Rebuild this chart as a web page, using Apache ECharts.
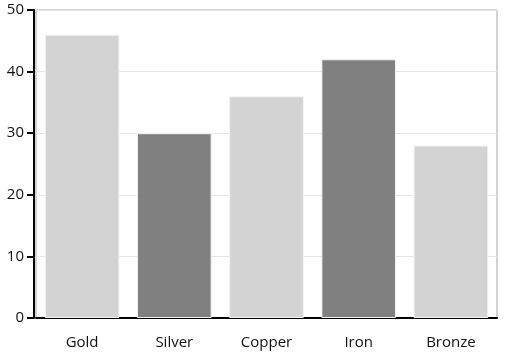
<!DOCTYPE html>
<html>
<head>
<meta charset="utf-8">
<script src="https://cdn.jsdelivr.net/npm/echarts@6/dist/echarts.min.js"></script>
<style>
    html, body { margin: 0; padding: 0; background: #fff; }
    #chart { width: 505px; height: 352px; }
</style>
</head>
<body>
<div id="chart"></div>
<script>
    // chart data
    var categories = ['Gold', 'Silver', 'Copper', 'Iron', 'Bronze'];
    var values = [46, 30, 36, 42, 28];
    var barColors = ['#d3d3d3', '#808080', '#d3d3d3', '#808080', '#d3d3d3'];

    var chart = echarts.init(document.getElementById('chart'));
    var textFont = '"Open Sans", "Noto Sans", sans-serif';

    var option = {
        animation: false,
        grid: {
            left: 36,
            right: 8,
            top: 10,
            bottom: 34,
            show: true,
            borderColor: '#a6a6a6',
            borderWidth: 1,
            backgroundColor: 'transparent'
        },
        xAxis: {
            type: 'category',
            data: categories,
            axisLine: { lineStyle: { color: '#000', width: 2 } },
            axisTick: { alignWithLabel: true, length: 9, lineStyle: { color: '#000', width: 2 } },
            axisLabel: { color: '#111', fontSize: 15, fontFamily: textFont, margin: 17 }
        },
        yAxis: {
            type: 'value',
            min: 0,
            max: 50,
            interval: 10,
            offset: 2,
            axisLine: { show: true, lineStyle: { color: '#000', width: 2 } },
            axisTick: { show: true, length: 7, lineStyle: { color: '#000', width: 2 } },
            axisLabel: { color: '#111', fontSize: 15, fontFamily: textFont, margin: 10 },
            splitLine: { lineStyle: { color: '#e6e6e6' } }
        },
        series: [{
            type: 'bar',
            barCategoryGap: '19%',
            data: values.map(function (v, i) {
                return { value: v, itemStyle: { color: barColors[i] } };
            }),
            itemStyle: { borderColor: '#f4f4f4', borderWidth: 1 }
        }]
    };
    chart.setOption(option);
</script>
</body>
</html>
